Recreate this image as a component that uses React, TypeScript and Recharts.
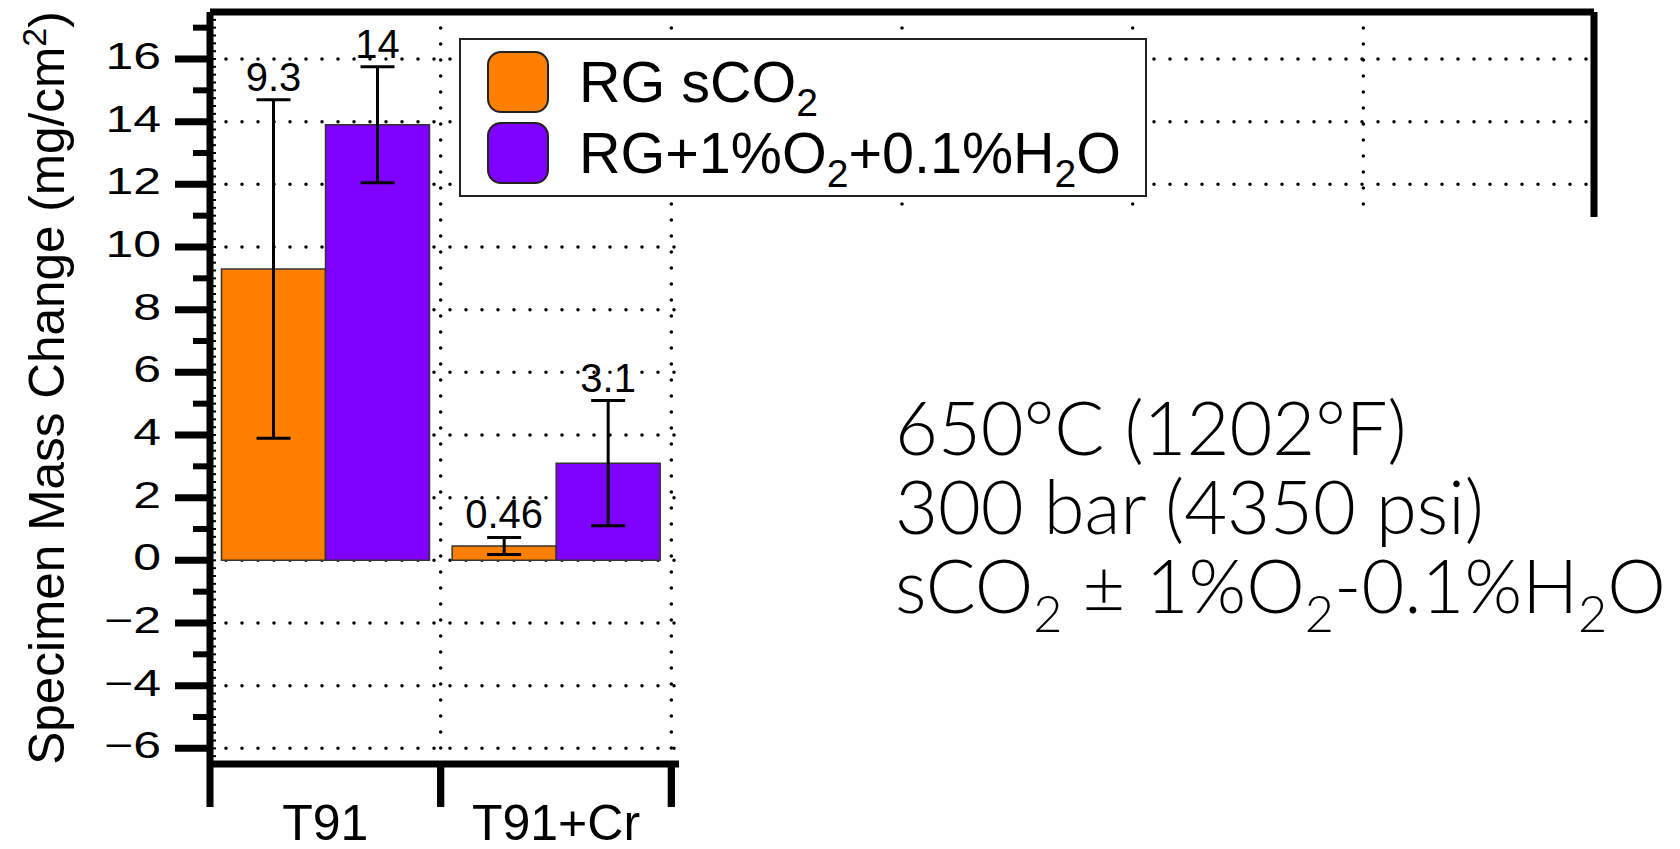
import React from 'react';
import { BarChart, Bar, XAxis, YAxis, CartesianGrid, ErrorBar, LabelList, Legend } from 'recharts';

// alloys tested and the two gas environments
const categories = ['T91', 'T91+Cr'];
const seriesNames = ['RG sCO_2', 'RG+1%O_2+0.1%H_2O'];
const rgValues = [9.3, 0.46];
const rgErrors = [5.4, 0.27];
const mixValues = [13.9, 3.1];
const mixErrors = [1.85, 2.0];
const yTickLabels = [-6, -4, -2, 0, 2, 4, 6, 8, 10, 12, 14, 16];
const conditionLines = ['650°C (1202°F)', '300 bar (4350 psi)', 'sCO_2 ± 1%O_2-0.1%H_2O'];

const W = 1680;
const H = 849;
const PLOT_LEFT = 210;
const PLOT_RIGHT = 1594;
const PLOT_TOP = 12;
const PLOT_BOTTOM = 764;
const Y_MIN = -6.5;
const Y_MAX = 17.5;
const SLOT_COUNT = 6;
const BAND = (PLOT_RIGHT - PLOT_LEFT) / SLOT_COUNT;
const PX_PER_UNIT = (PLOT_BOTTOM - PLOT_TOP) / (Y_MAX - Y_MIN);

const FONT = '"Liberation Sans", Arial, Helvetica, sans-serif';
const ORANGE = '#FF8000';
const PURPLE = '#8000FF';
const FRAME = { stroke: '#000', strokeWidth: 7 };

// every quarter unit gets a small inside tick, integers get outside ticks
const axisTicks = Array.from({ length: (Y_MAX - Y_MIN) * 4 + 1 }, (_, i) => Y_MIN + i * 0.25);

// the frame spans six category slots; only the first two carry data
const data = Array.from({ length: SLOT_COUNT }, (_, i) => ({
  name: categories[i] ?? '',
  rg: i < categories.length ? rgValues[i] : null,
  rgErr: i < categories.length ? rgErrors[i] : null,
  mix: i < categories.length ? mixValues[i] : null,
  mixErr: i < categories.length ? mixErrors[i] : null,
}));

// "CO_2" -> CO with a lowered 2
function withSubs(text: string, size: number, keyBase = '') {
  const parts = text.split(/_(\d)/);
  const shift = size * 0.25;
  return parts.map((p, i) =>
    i % 2 === 1 ? (
      <tspan key={keyBase + i} dy={shift} fontSize={size * 0.68}>{p}</tspan>
    ) : i === 0 ? (
      <React.Fragment key={keyBase + i}>{p}</React.Fragment>
    ) : (
      <tspan key={keyBase + i} dy={-shift}>{p}</tspan>
    )
  );
}

function YTick(props: any) {
  const { y, payload } = props;
  const v = payload.value as number;
  const r = Math.round(v);
  const isInt = Math.abs(v - r) < 1e-6;
  const fine = <line x1={PLOT_LEFT} x2={PLOT_LEFT + 6} y1={y} y2={y} stroke="#000" strokeWidth={2} />;
  if (!isInt) return fine;
  const even = r % 2 === 0;
  return (
    <g>
      {fine}
      <line x1={even ? 175 : 193} x2={PLOT_LEFT} y1={y} y2={y} stroke="#000" strokeWidth={even ? 7 : 6} />
      {even && r >= -6 && r <= 16 && (
        <text
          transform={`translate(161 ${y + 10}) scale(1.35 1)`}
          textAnchor="end"
          fontSize={37}
          fontFamily={FONT}
          fill="#000"
        >
          {r < 0 ? `\u2212${-r}` : r}
        </text>
      )}
    </g>
  );
}

function XTick(props: any) {
  const { x, payload } = props;
  const left = x - BAND / 2;
  const right = x + BAND / 2;
  return (
    <g>
      <line x1={left} x2={left} y1={PLOT_BOTTOM} y2={807} stroke="#000" strokeWidth={7} />
      <line x1={right} x2={right} y1={PLOT_BOTTOM} y2={807} stroke="#000" strokeWidth={7} />
      {payload.value && (
        <text x={x} y={840} textAnchor="middle" fontSize={50} fontFamily={FONT} fill="#000">
          {payload.value}
        </text>
      )}
    </g>
  );
}

const valueLabel = (errs: number[]) => (props: any) => {
  const { x, y, width, value, index } = props;
  if (value == null) return null;
  const top = y - errs[index] * PX_PER_UNIT;
  return (
    <text x={x + width / 2} y={top - 9} textAnchor="middle" fontSize={40} fontFamily={FONT} fill="#000">
      {Number(value).toPrecision(2)}
    </text>
  );
};

function YTitle() {
  return (
    <text
      transform="translate(64 388) rotate(-90)"
      textAnchor="middle"
      fontSize={49.5}
      fontFamily={FONT}
      fill="#000"
    >
      <tspan>Specimen Mass Change (mg/cm</tspan>
      <tspan dy={-18} fontSize={34}>2</tspan>
      <tspan dy={18}>)</tspan>
    </text>
  );
}

function LegendBox(props: any) {
  const payload = (props.payload || []) as any[];
  return (
    <div
      style={{
        width: 688,
        height: 159,
        boxSizing: 'border-box',
        border: '2px solid #222',
        background: '#fff',
      }}
    >
      <svg width={684} height={155} style={{ display: 'block', overflow: 'visible' }}>
        {payload.map((entry, i) => (
          <g key={i}>
            <rect
              x={27}
              y={12 + i * 71}
              width={60}
              height={60}
              rx={13}
              fill={entry.color}
              stroke="#222"
              strokeWidth={2}
            />
            <text x={118} y={62 + i * 71} fontSize={57.5} fontFamily={FONT} fill="#000">
              {withSubs(String(entry.value), 57.5)}
            </text>
          </g>
        ))}
      </svg>
    </div>
  );
}

const gridRows = () => yTickLabels.map((v) => PLOT_TOP + (Y_MAX - v) * PX_PER_UNIT);
const gridCols = () => Array.from({ length: SLOT_COUNT - 1 }, (_, i) => PLOT_LEFT + (i + 1) * BAND);

export default function App() {
  return (
    <div style={{ position: 'absolute', left: 0, top: 0, width: W, height: H, background: '#fff' }}>
      <BarChart
        width={W}
        height={H}
        data={data}
        margin={{ top: PLOT_TOP - 1, right: W - PLOT_RIGHT - 1, bottom: 0, left: 0 }}
        barCategoryGap={11.5}
        barGap={0}
      >
        <CartesianGrid
          stroke="#000"
          strokeWidth={3.5}
          strokeDasharray="0 16"
          strokeLinecap="round"
          horizontalCoordinatesGenerator={gridRows}
          verticalCoordinatesGenerator={gridCols}
        />
        <XAxis
          dataKey="name"
          height={H - PLOT_BOTTOM}
          axisLine={FRAME}
          tickLine={false}
          interval={0}
          tick={<XTick />}
        />
        {/* top edge of the frame */}
        <XAxis xAxisId="top" dataKey="name" orientation="top" height={1} tick={false} tickLine={false}
          axisLine={FRAME} />
        <YAxis
          width={PLOT_LEFT}
          domain={[Y_MIN, Y_MAX]}
          ticks={axisTicks}
          interval={0}
          allowDataOverflow
          axisLine={FRAME}
          tickLine={false}
          tick={<YTick />}
          label={<YTitle />}
        />
        {/* right edge of the frame */}
        <YAxis yAxisId="right" orientation="right" width={1} tick={false} tickLine={false}
          axisLine={FRAME} />
        <Legend
          layout="horizontal"
          verticalAlign="middle"
          align="center"
          content={<LegendBox />}
          wrapperStyle={{ position: 'absolute', left: 459, top: 38, width: 688, height: 159 }}
        />
        <Bar dataKey="rg" name={seriesNames[0]} fill={ORANGE} stroke="#333" strokeWidth={1.5} isAnimationActive={false}>
          <ErrorBar dataKey="rgErr" width={17} stroke="#000" strokeWidth={3} direction="y" />
          <LabelList dataKey="rg" content={valueLabel(rgErrors)} />
        </Bar>
        <Bar dataKey="mix" name={seriesNames[1]} fill={PURPLE} stroke="#333" strokeWidth={1.5} isAnimationActive={false}>
          <ErrorBar dataKey="mixErr" width={17} stroke="#000" strokeWidth={3} direction="y" />
          <LabelList dataKey="mix" content={valueLabel(mixErrors)} />
        </Bar>
      </BarChart>
      <div
        style={{ position: 'absolute', left: 679, top: 217, width: W - 679, height: H - 217, background: '#fff' }}
      >
        <svg width={W - 679} height={H - 217} style={{ display: 'block' }}>
          {/* test conditions, one text block with three lines */}
          <text
            x={216}
            y={238}
            fontSize={74}
            fontFamily="Lato, 'Noto Sans', sans-serif"
            fontWeight={300}
            fill="#000"
          >
            {conditionLines.map((line, i) => (
              <tspan key={i} x={216} y={238 + i * 79}>
                {withSubs(line, 74, `${i}-`)}
              </tspan>
            ))}
          </text>
        </svg>
      </div>
    </div>
  );
}
